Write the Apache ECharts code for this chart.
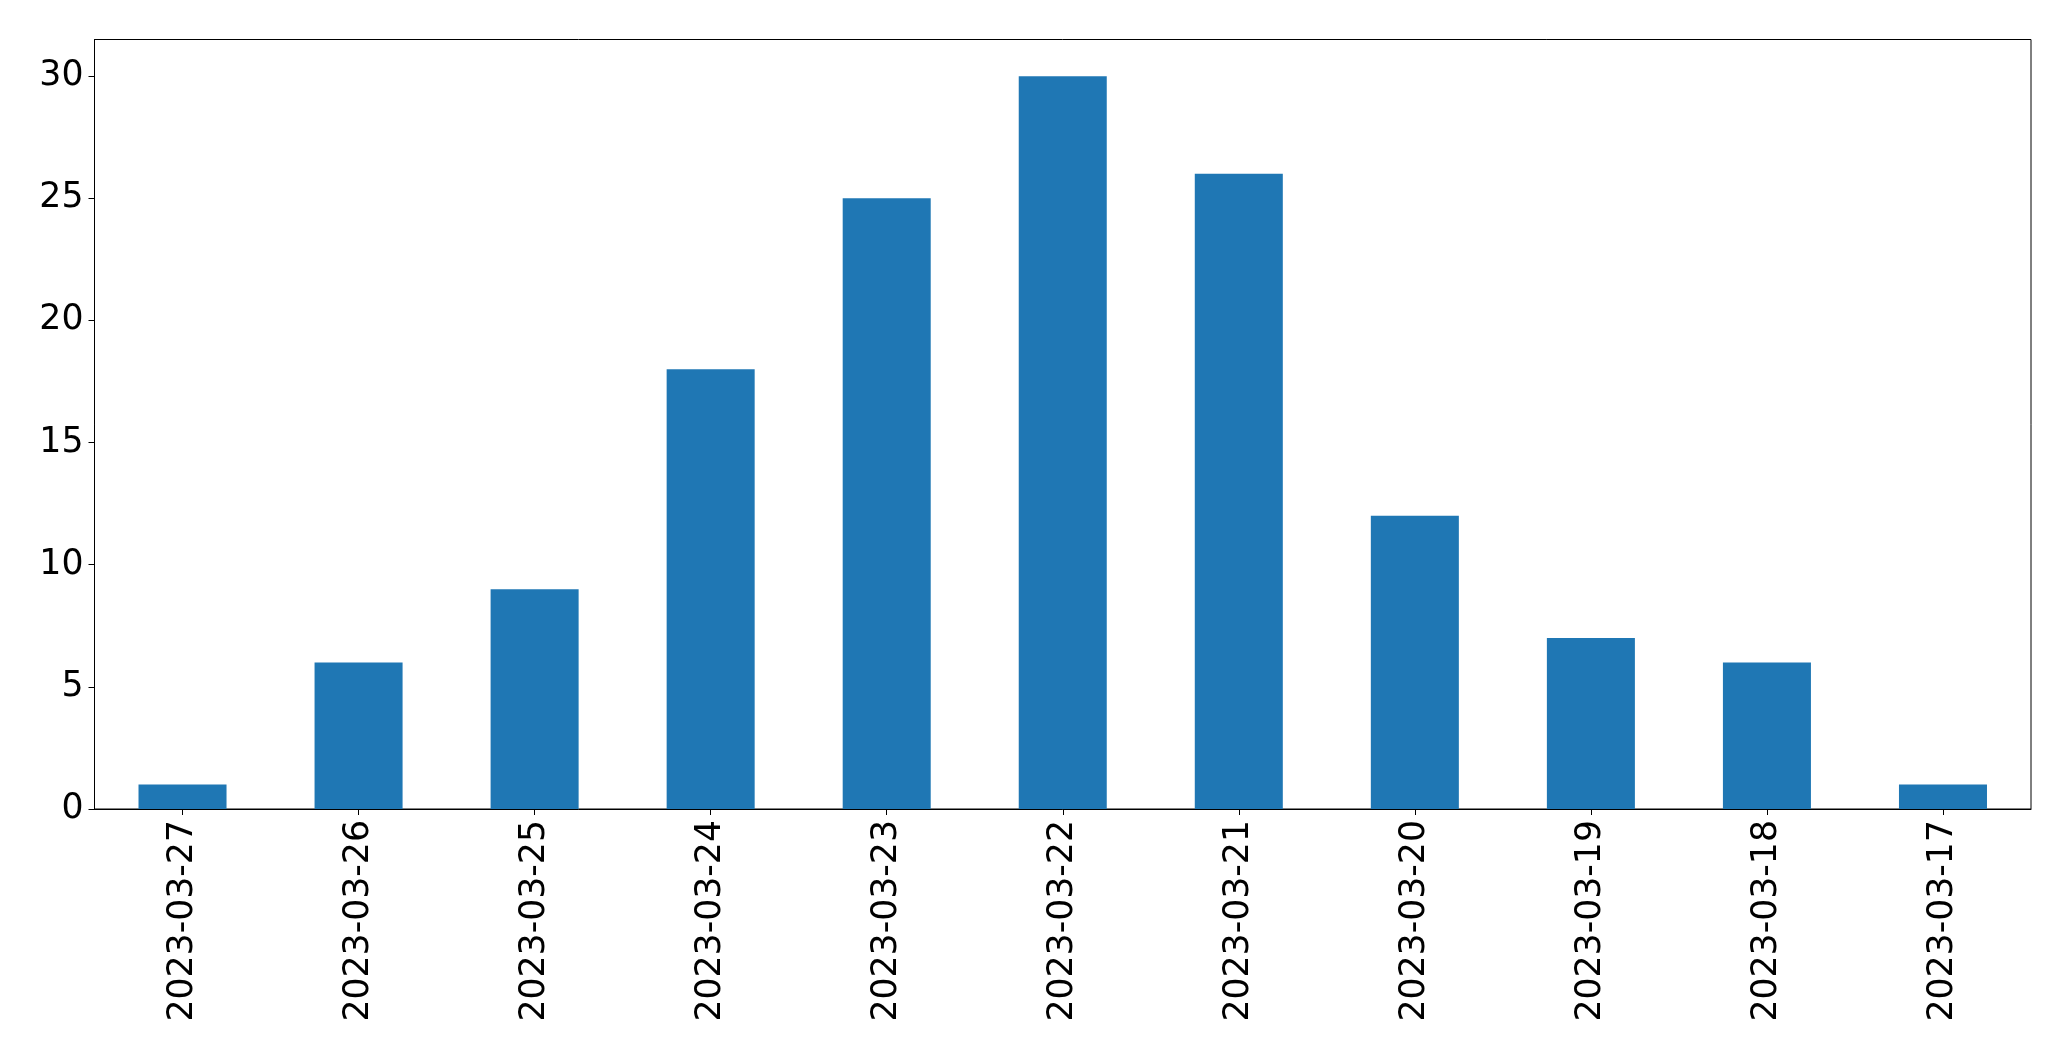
<!DOCTYPE html>
<html>
<head>
<meta charset="utf-8">
<script src="https://cdn.jsdelivr.net/npm/echarts@6/dist/echarts.min.js"></script>
<style>
html,body{margin:0;padding:0;background:#fff;}
#chart{width:2071px;height:1061px;}
</style>
</head>
<body>
<div id="chart"></div>
<script>
const categories = ["2023-03-27","2023-03-26","2023-03-25","2023-03-24","2023-03-23","2023-03-22","2023-03-21","2023-03-20","2023-03-19","2023-03-18","2023-03-17"];
const values = [1, 6, 9, 18, 25, 30, 26, 12, 7, 6, 1];
const yTicks = [0, 5, 10, 15, 20, 25, 30];

const chart = echarts.init(document.getElementById('chart'), null, {renderer: 'canvas'});
const font = "DejaVu Sans";
chart.setOption({
  animation: false,
  backgroundColor: '#ffffff',
  grid: {
    left: 94.5, right: 40, top: 39.5, bottom: 252,
    show: true, borderColor: '#000', borderWidth: 1, backgroundColor: 'transparent'
  },
  xAxis: {
    type: 'category',
    data: categories,
    boundaryGap: true,
    axisLine: {show: true, lineStyle: {color: '#000', width: 1}},
    axisTick: {show: true, alignWithLabel: true, length: 6, lineStyle: {color: '#000', width: 1}},
    axisLabel: {rotate: 90, margin: 11, color: '#000', fontSize: 34.7, fontFamily: font, interval: 0},
    splitLine: {show: false}
  },
  yAxis: {
    type: 'value',
    min: 0, max: 31.5,
    interval: 5,
    axisLine: {show: true, lineStyle: {color: '#000', width: 1}},
    axisTick: {show: true, length: 6, lineStyle: {color: '#000', width: 1}, customValues: yTicks},
    axisLabel: {margin: 11, color: '#000', fontSize: 34.7, fontFamily: font, customValues: yTicks},
    splitLine: {show: false}
  },
  series: [{
    type: 'bar',
    data: values,
    barWidth: '50%',
    itemStyle: {color: '#1f77b4'}
  }]
});
</script>
</body>
</html>
